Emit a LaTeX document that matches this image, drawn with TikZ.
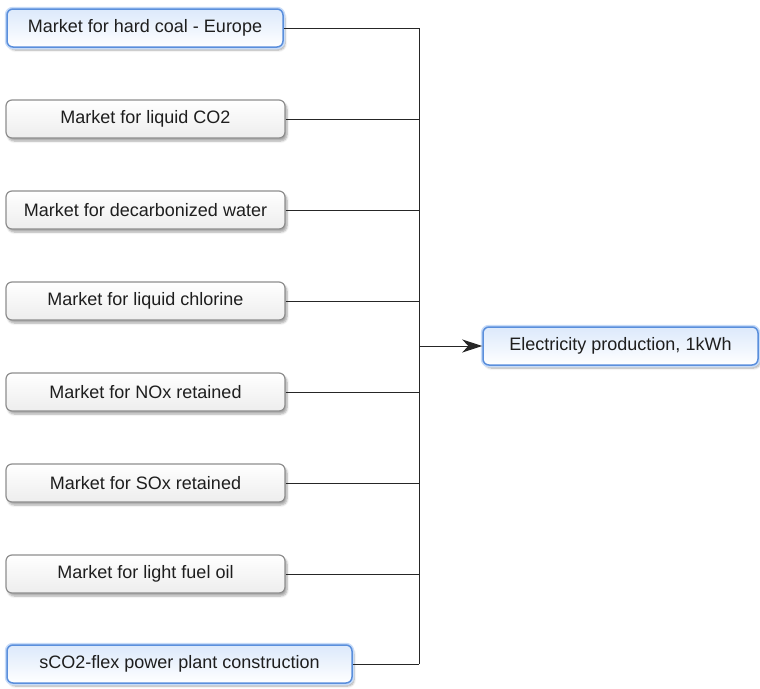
\documentclass[tikz,border=0pt]{standalone}
\usepackage{fontspec}
\setmainfont{Liberation Sans}
\usetikzlibrary{arrows.meta,shadows.blur}
\definecolor{bluedge}{HTML}{5A8FDC}
\definecolor{blueglow}{HTML}{C8DCF8}
\definecolor{bluefill}{HTML}{DCE9FB}
\definecolor{grayedge}{HTML}{8E8E8E}
\definecolor{txt}{HTML}{1E1E1E}
\tikzset{
  base/.style={rounded corners=6pt, minimum height=38pt, inner sep=0pt,
    text=txt, font=\fontsize{18}{21}\selectfont,
    blur shadow={shadow xshift=2pt, shadow yshift=-3pt, shadow blur steps=6, shadow opacity=35}},
  graybox/.style={base, draw=grayedge, line width=1.2pt, top color=white, bottom color=gray!14},
  bluebox/.style={base, draw=bluedge, line width=1.5pt, top color=bluefill, bottom color=white,
    preaction={draw=blueglow, line width=4.5pt}},
  conn/.style={draw=black!85, line width=1pt},
}
\begin{document}
\begin{tikzpicture}[x=1pt,y=-1pt]
\useasboundingbox (0,0) rectangle (760,688);
\node[bluebox, minimum width=276pt] (b1) at (145,28) {Market for hard coal - Europe};
\node[graybox, minimum width=279pt] (b2) at (145.5,119) {Market for liquid CO2};
\node[graybox, minimum width=279pt] (b3) at (145.5,210) {Market for decarbonized water};
\node[graybox, minimum width=279pt] (b4) at (145.5,301) {Market for liquid chlorine};
\node[graybox, minimum width=279pt] (b5) at (145.5,392) {Market for NOx retained};
\node[graybox, minimum width=279pt] (b6) at (145.5,483) {Market for SOx retained};
\node[graybox, minimum width=279pt] (b7) at (145.5,574) {Market for light fuel oil};
\node[bluebox, minimum width=345pt] (b8) at (179.5,664) {sCO2-flex power plant construction};
\node[bluebox, minimum width=275pt] (t) at (620.5,346) {Electricity production, 1kWh};
\coordinate (j) at (419,346);
\foreach \b in {b1,b2,b3,b4,b5,b6,b7,b8}{
  \draw[conn] (\b.east) -- (\b.east -| j);
}
\draw[conn] (b1.east -| j) -- (b8.east -| j);
\draw[conn, -{Stealth[length=20pt,width=13pt,inset=6pt]}] (j) -- (t.west);
\end{tikzpicture}
\end{document}
